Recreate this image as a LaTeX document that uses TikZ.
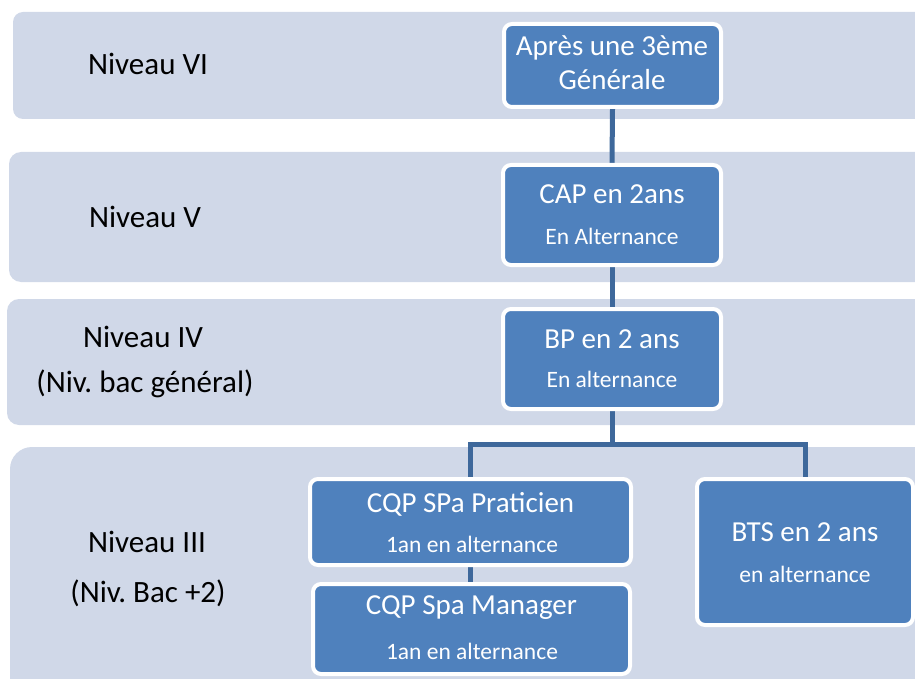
\documentclass[tikz,border=0pt]{standalone}
\usepackage{fontspec}
\setmainfont{Carlito}
\frenchspacing
\definecolor{bandc}{RGB}{208,216,232}
\definecolor{boxc}{RGB}{79,129,189}
\definecolor{connc}{RGB}{62,104,155}
\pgfdeclarelayer{bg}
\pgfdeclarelayer{mid}
\pgfsetlayers{bg,mid,main}
\begin{document}
\begin{tikzpicture}[x=1pt,y=-1pt,
  bandbox/.style={fill=bandc},
  box/.style={draw=white, line width=4pt, fill=boxc, rounded corners=8pt, inner sep=0pt},
  bigtxt/.style={text=white, anchor=base, inner sep=0pt, font=\fontsize{29}{35}\selectfont},
  smalltxt/.style={text=white, anchor=base, inner sep=0pt, font=\fontsize{23.5}{28}\selectfont},
  lab/.style={text=black, anchor=base, inner sep=0pt, font=\fontsize{31}{37}\selectfont},
  link/.style={draw=connc, line width=5pt}]
\useasboundingbox (0,0) rectangle (915,679);
\clip (0,0) rectangle (915,679);
% bands
\begin{pgfonlayer}{bg}
\fill[bandbox, rounded corners=10pt] (13,12) rectangle (960,119);
\fill[bandbox, rounded corners=12pt] (9,152) rectangle (960,282);
\fill[bandbox, rounded corners=12pt] (7,299) rectangle (960,425);
\fill[bandbox, rounded corners=22pt] (10,447) rectangle (960,720);
\end{pgfonlayer}
% boxes
\node[box, minimum width=217pt, minimum height=83pt] (n1) at (612.5,65.5) {};
\node[box, minimum width=218pt, minimum height=100pt] (n2) at (612,215) {};
\node[box, minimum width=218pt, minimum height=100pt] (n3) at (612,359) {};
\node[box, minimum width=321pt, minimum height=86pt] (cqpp) at (470.5,522) {};
\node[box, minimum width=317pt, minimum height=90pt] (cqpm) at (471.5,629) {};
\node[box, minimum width=216pt, minimum height=146pt] (bts) at (805,552) {};
% box texts
\node[bigtxt] (t1a) at (612,56) {Après une 3ème};
\node[bigtxt] (t1b) at (612,90) {Générale};
\node[bigtxt] (t2a) at (612,204) {CAP en 2ans};
\node[smalltxt] (t2b) at (612,244) {En Alternance};
\node[bigtxt] (t3a) at (612,348) {BP en 2 ans};
\node[smalltxt] (t3b) at (612,387) {En alternance};
\node[bigtxt] (t4a) at (470.5,512) {CQP SPa Praticien};
\node[smalltxt] (t4b) at (472,552) {1an en alternance};
\node[bigtxt] (t5a) at (471.5,614) {CQP Spa Manager};
\node[smalltxt] (t5b) at (472,659) {1an en alternance};
\node[bigtxt] (t6a) at (805,541) {BTS en 2 ans};
\node[smalltxt] (t6b) at (805,582) {en alternance};
% level labels
\node[lab] (l1) at (148,75) {Niveau VI};
\node[lab] (l2) at (145,227) {Niveau V};
\node[lab] (l3a) at (143,347) {Niveau IV};
\node[lab] (l3b) at (145,392) {(Niv. bac général)};
\node[lab] (l4a) at (147,552) {Niveau III};
\node[lab] (l4b) at (148,602) {(Niv. Bac +2)};
% connectors
\coordinate (j) at (612,444);
\begin{pgfonlayer}{mid}
\draw[link] (n1.south) -- (n2.north);
\draw[link] (n2.south) -- (n3.north);
\draw[link] (n3.south) -- (j);
\draw[link] (cqpp.north) |- (j) -| (bts.north);
\draw[link] (cqpp.south) -- (cqpp.south |- cqpm.north);
\end{pgfonlayer}
\end{tikzpicture}
\end{document}
